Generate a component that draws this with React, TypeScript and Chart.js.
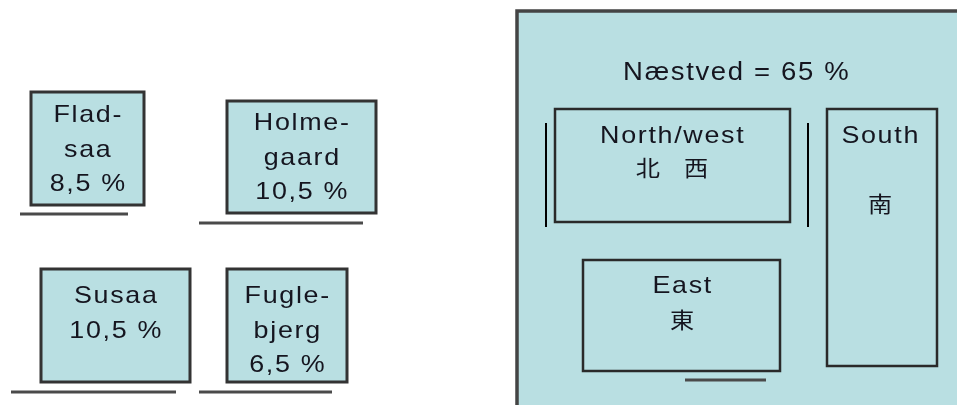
import React, { useEffect, useRef } from "react";
import { Chart, registerables } from "chart.js";

Chart.register(...registerables);

// ---- data ----
const townLabels: string[][] = [["Flad-", "saa"], ["Holme-", "gaard"], ["Susaa"], ["Fugle-", "bjerg"]];
const townShares: number[] = [8.5, 10.5, 10.5, 6.5];
const townBoxX: number[][] = [[31, 144], [227, 376], [41, 190], [227, 347]];
const townBoxY: number[][] = [[92, 205], [101, 213], [269, 382], [269, 382]];
const townBaseX: number[][] = [[20, 128], [199, 363], [11, 176], [199, 332]];
const townBaseY: number[] = [214, 223, 392, 392];
const townTextY: number[] = [122, 130, 303, 303];

const cityName = "Næstved";
const cityShare = 65;
const cityBoxX: number[] = [517, 990];
const cityBoxY: number[] = [11, 430];
const cityTitle: number[] = [736, 80];

const districtNames: string[] = ["North/west", "South", "East"];
const districtChars: string[] = ["北　西", "南", "東"];
const districtCenters: number[] = [672, 880, 682];
const districtBoxX: number[][] = [[555, 790], [827, 937], [583, 780]];
const districtBoxY: number[][] = [[109, 222], [109, 366], [260, 371]];
const districtTextY: number[] = [143, 143, 293];
const districtCharY: number[] = [168, 204, 320];
const sideBarsX: number[] = [546, 808];
const sideBarsY: number[] = [123, 227];
const eastBaseX: number[] = [685, 766];
const eastBaseY = 380;

const FILL = "#b9dfe2";
const EDGE = "#333";
const FONT = '"Liberation Sans", Arial, sans-serif';
const CJK = '"Noto Sans CJK JP", "Noto Sans CJK SC", sans-serif';

const fmt = (v: number) => String(v).replace(".", ",") + " %";

function rect(xs: number[], ys: number[]) {
  const mid = (xs[0] + xs[1]) / 2;
  return [
    { x: mid, y: ys[0] },
    { x: xs[1], y: ys[0] },
    { x: xs[1], y: ys[1] },
    { x: xs[0], y: ys[1] },
    { x: xs[0], y: ys[0] },
    { x: mid, y: ys[0] },
  ];
}

export default function App() {
  const ref = useRef<HTMLCanvasElement | null>(null);

  useEffect(() => {
    if (!ref.current) return;
    const datasets: any[] = [];
    const boxDs = (xs: number[], ys: number[], width: number, color: string) => ({
      data: rect(xs, ys),
      borderColor: color,
      borderWidth: width,
      backgroundColor: FILL,
      fill: "shape",
      pointRadius: 0,
      tension: 0,
      borderJoinStyle: "miter",
    });
    const lineDs = (pts: { x: number; y: number }[], width: number, color: string) => ({
      data: pts,
      borderColor: color,
      borderWidth: width,
      fill: false,
      pointRadius: 0,
      tension: 0,
      borderCapStyle: "butt",
    });

    districtBoxX.forEach((xs, i) => datasets.push(boxDs(xs, districtBoxY[i], 2.5, "#2a2a2a")));
    sideBarsX.forEach((x) =>
      datasets.push(lineDs([{ x, y: sideBarsY[0] }, { x, y: sideBarsY[1] }], 2, "#000")));
    datasets.push(lineDs([{ x: eastBaseX[0], y: eastBaseY }, { x: eastBaseX[1], y: eastBaseY }], 3, "#4a4a4a"));
    townBoxX.forEach((xs, i) => {
      datasets.push(boxDs(xs, townBoxY[i], 3, EDGE));
      datasets.push(lineDs([{ x: townBaseX[i][0], y: townBaseY[i] }, { x: townBaseX[i][1], y: townBaseY[i] }], 3, "#4a4a4a"));
    });
    datasets.push(boxDs(cityBoxX, cityBoxY, 3.5, "#444"));

    const stretchText = (ctx: CanvasRenderingContext2D, t: string, x: number, y: number, sx: number) => {
      ctx.save();
      ctx.translate(x, y);
      ctx.scale(sx, 1);
      ctx.fillText(t, 0, 0);
      ctx.restore();
    };

    const textPlugin = {
      id: "texts",
      afterDatasetsDraw(chart: any) {
        const { ctx, scales } = chart;
        const px = (v: number) => scales.x.getPixelForValue(v);
        const py = (v: number) => scales.y.getPixelForValue(v);
        ctx.save();
        ctx.fillStyle = "#15151f";
        ctx.textAlign = "center";
        ctx.textBaseline = "alphabetic";
        (ctx as any).letterSpacing = "1.5px";
        ctx.font = `24px ${FONT}`;
        townLabels.forEach((lines, i) => {
          const cx = (townBoxX[i][0] + townBoxX[i][1]) / 2 + 0.7;
          const all = [...lines, fmt(townShares[i])];
          all.forEach((t, j) => stretchText(ctx, t, px(cx), py(townTextY[i] + j * 34.5), 1.12));
        });
        ctx.font = `25px ${FONT}`;
        stretchText(ctx, `${cityName} = ${fmt(cityShare)}`, px(cityTitle[0] + 0.7), py(cityTitle[1]), 1.1);
        ctx.font = `24px ${FONT}`;
        districtNames.forEach((n, i) => {
          stretchText(ctx, n, px(districtCenters[i] + 0.7), py(districtTextY[i]), 1.12);
        });
        (ctx as any).letterSpacing = "0px";
        ctx.font = `22px ${CJK}`;
        ctx.textBaseline = "middle";
        districtChars.forEach((c, i) => {
          stretchText(ctx, c, px(districtCenters[i]), py(districtCharY[i]), 1.1);
        });
        ctx.restore();
      },
    };

    const chart = new Chart(ref.current, {
      type: "line",
      data: { datasets },
      options: {
        animation: false,
        responsive: false,
        devicePixelRatio: 1,
        layout: { padding: 0 },
        plugins: { legend: { display: false }, tooltip: { enabled: false } },
        events: [],
        scales: {
          x: { type: "linear", min: 0, max: 957, display: false },
          y: { type: "linear", min: 0, max: 405, reverse: true, display: false },
        },
      },
      plugins: [textPlugin],
    } as any);
    return () => chart.destroy();
  }, []);

  return (
    <div style={{ position: "absolute", left: 0, top: 0, width: 957, height: 405, background: "#fff" }}>
      <canvas ref={ref} width={957} height={405} style={{ display: "block" }} />
    </div>
  );
}
